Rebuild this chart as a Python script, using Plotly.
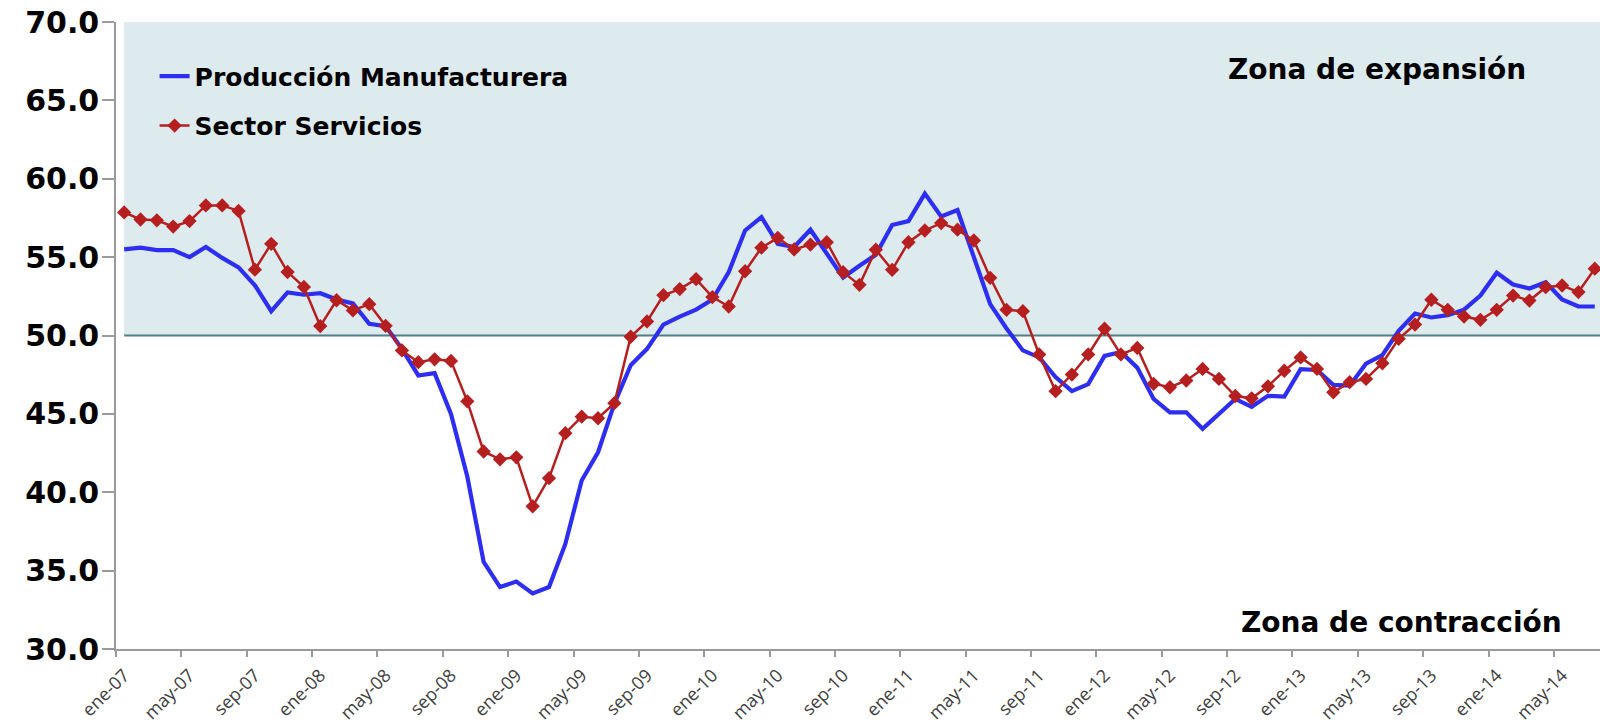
import plotly.graph_objects as go

MESES = ["ene", "feb", "mar", "abr", "may", "jun", "jul", "ago", "sep", "oct", "nov", "dic"]
ANIOS = ["07", "08", "09", "10", "11", "12", "13", "14"]
N_MESES = 91  # ene-07 .. jul-14
categorias = [f"{m}-{a}" for a in ANIOS for m in MESES][:N_MESES]

produccion_manufacturera = [
    55.5, 55.6, 55.45, 55.45, 55.0, 55.65, 54.95, 54.35, 53.2, 51.55,
    52.75, 52.6, 52.7, 52.3, 52.05, 50.75, 50.6, 49.15, 47.45, 47.6,
    45.0, 41.0, 35.55, 33.95, 34.3, 33.55, 33.95, 36.7, 40.75, 42.55,
    45.65, 48.1, 49.15, 50.7, 51.2, 51.65, 52.3, 54.05, 56.7, 57.55,
    55.85, 55.65, 56.75, 55.2, 53.7, 54.45, 55.15, 57.05, 57.3, 59.05,
    57.6, 58.0, 55.0, 52.0, 50.45, 49.05, 48.6, 47.35, 46.45, 46.9,
    48.7, 48.95, 47.95, 45.95, 45.1, 45.1, 44.05, 45.0, 45.95, 45.45,
    46.15, 46.1, 47.85, 47.8, 46.85, 46.8, 48.2, 48.75, 50.3, 51.4,
    51.15, 51.3, 51.65, 52.55, 54.0, 53.25, 53.0, 53.4, 52.3, 51.85,
    51.85,
]

sector_servicios = [
    57.85, 57.4, 57.35, 56.95, 57.3, 58.3, 58.3, 57.95, 54.2, 55.85,
    54.05, 53.1, 50.6, 52.25, 51.6, 52.0, 50.62, 49.05, 48.3, 48.48,
    48.38, 45.8, 42.6, 42.1, 42.23, 39.1, 40.9, 43.77, 44.82, 44.72,
    45.68, 49.92, 50.9, 52.57, 52.96, 53.6, 52.45, 51.85, 54.1, 55.6,
    56.23, 55.49, 55.8, 55.95, 54.04, 53.23, 55.47, 54.19, 55.95, 56.7,
    57.17, 56.75, 56.06, 53.68, 51.64, 51.55, 48.79, 46.45, 47.51, 48.79,
    50.43, 48.79, 49.21, 46.92, 46.7, 47.13, 47.87, 47.23, 46.14, 45.99,
    46.76, 47.75, 48.6, 47.87, 46.38, 47.02, 47.23, 48.23, 49.79, 50.7,
    52.28, 51.64, 51.21, 51.0, 51.64, 52.55, 52.23, 53.08, 53.19, 52.77,
    54.26,
]

UMBRAL = 50.0
Y_MIN, Y_MAX = 30.0, 70.0

BOLD_FONT = "DejaVu Sans"

fig = go.Figure()

fig.add_trace(go.Scatter(
    x=categorias, y=produccion_manufacturera, mode="lines",
    name="Producción Manufacturera", legendgroup="a",
    line=dict(color="#2E2EF2", width=4.2),
))
fig.add_trace(go.Scatter(
    x=categorias, y=sector_servicios, mode="lines+markers",
    name="Sector Servicios", legendgroup="b",
    line=dict(color="#B51F1F", width=2.5),
    marker=dict(symbol="diamond", size=11, color="#B51F1F"),
))

# expansion zone shading and threshold line
fig.add_shape(type="rect", xref="x", yref="y", x0=0, x1=N_MESES + 2,
              y0=UMBRAL, y1=Y_MAX, fillcolor="#DDEAEE", line=dict(width=0),
              layer="below")
fig.add_shape(type="line", xref="x", yref="y", x0=0, x1=N_MESES + 2,
              y0=UMBRAL, y1=UMBRAL, line=dict(color="#4E7F86", width=2),
              layer="below")

fig.add_annotation(text="<b>Zona de expansión</b>", xref="paper", yref="paper",
                   x=0.8497, y=0.924, xanchor="center", yanchor="middle",
                   showarrow=False, font=dict(family=BOLD_FONT, size=28, color="black"))
fig.add_annotation(text="<b>Zona de contracción</b>", xref="paper", yref="paper",
                   x=0.866, y=0.042, xanchor="center", yanchor="middle",
                   showarrow=False, font=dict(family=BOLD_FONT, size=28, color="black"))

fig.update_layout(
    width=1600, height=723,
    margin=dict(l=116, r=0, t=22, b=74),
    paper_bgcolor="white", plot_bgcolor="white",
    showlegend=True,
    legend=dict(
        x=0.026, y=0.95, xanchor="left", yanchor="top",
        bgcolor="rgba(0,0,0,0)", borderwidth=0,
        font=dict(family=BOLD_FONT, size=25, color="black", weight="bold"),
        traceorder="grouped", tracegroupgap=14,
    ),
)

fig.update_xaxes(
    type="category", range=[-0.5, 90.32],
    tickmode="linear", tick0=0, dtick=4, tickson="boundaries",
    ticks="outside", ticklen=6, tickcolor="#9A9A9A", tickwidth=1.5,
    showline=True, linecolor="#9A9A9A", linewidth=1.5,
    showgrid=False, zeroline=False, tickangle=-45, ticklabelstandoff=7,
    automargin=False,
    tickfont=dict(family="Open Sans", size=18, color="#404040"),
)
fig.update_yaxes(
    range=[Y_MIN, Y_MAX], dtick=5, tick0=30, tickformat=".1f",
    ticks="outside", ticklen=12, tickcolor="#9A9A9A", tickwidth=1.5,
    showline=True, linecolor="#9A9A9A", linewidth=1.5,
    showgrid=False, zeroline=False, ticklabelstandoff=-3,
    automargin=False,
    tickfont=dict(family=BOLD_FONT, size=30, color="black", weight="bold"),
)

fig.write_html("out.html", config={"displayModeBar": False},
               post_script="document.body.style.margin='0';")
